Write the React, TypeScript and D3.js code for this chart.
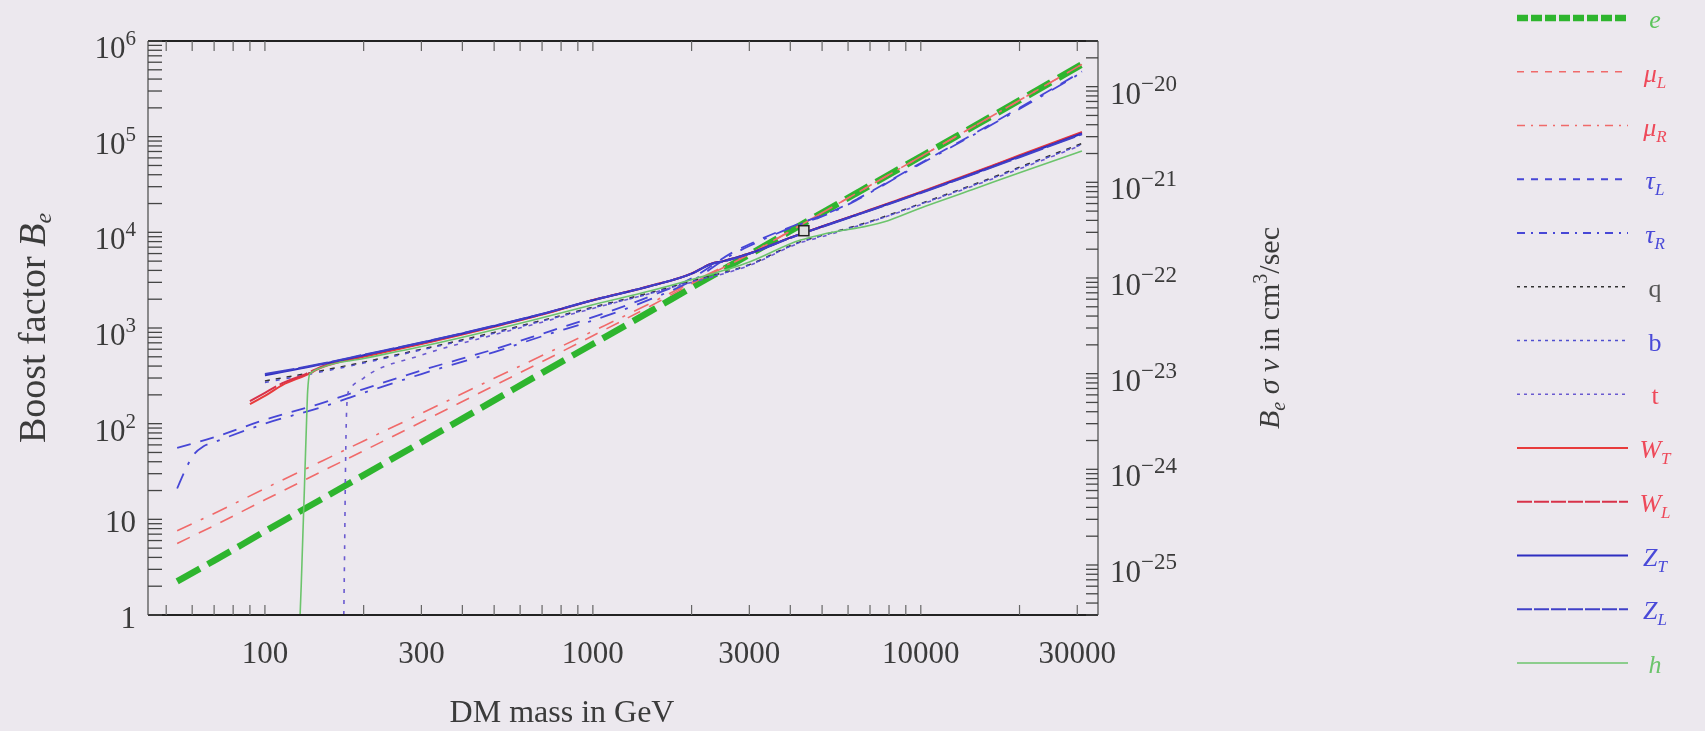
import React from "react";
import * as d3 from "d3";

// ---- data: [DM mass in GeV, boost factor B_e] ----
const eData = [[54,2.25],[70,3.7],[100,7.5],[150,16.5],[200,29],[300,64],[500,175],[700,340],[1000,680],[1500,1500],[2000,2650],[3000,5850],[5000,16000],[10000,62000],[20000,240000],[31000,570000]];
const muLData = [[54,5.6],[70,8.6],[100,16],[150,32],[200,52],[300,104],[500,250],[700,445],[1000,830],[1500,1700],[2000,2900],[3000,5900],[5000,16000],[10000,62000],[20000,240000],[31000,570000]];
const muRData = [[54,7.6],[70,11.5],[100,21],[150,41],[200,66],[300,128],[500,298],[700,515],[1000,925],[1500,1820],[2000,3000],[3000,6000],[5000,16000],[10000,62000],[20000,240000],[31000,570000]];
const tauLData = [[54,56],[70,72],[100,110],[150,165],[200,230],[300,360],[500,600],[700,870],[1000,1300],[1500,2150],[2000,3300],[2700,6300],[3000,7500],[4300,12500],[5000,15000],[10000,53000],[20000,200000],[31000,480000]];
const tauRData = [[54,21],[57,32],[60,45],[65,58],[70,64],[100,100],[150,150],[200,210],[300,330],[500,560],[700,820],[1000,1200],[1500,2000],[2000,3100],[2700,6000],[3000,7200],[4300,12200],[5000,14700],[10000,52000],[20000,195000],[31000,470000]];
const qData = [[100,280],[150,360],[200,440],[300,600],[500,900],[700,1200],[1000,1650],[1500,2350],[2000,3100],[3000,4600],[4300,8000],[5000,9300],[7000,13000],[10000,20000],[15000,33000],[20000,48000],[31000,85000]];
const bData = [[100,270],[150,350],[200,430],[300,590],[500,880],[700,1180],[1000,1620],[1500,2300],[2000,3050],[3000,4550],[4300,7900],[5000,9200],[7000,12800],[10000,19800],[15000,32500],[20000,47000],[31000,83000]];
const tData = [[174,1],[175,5],[176,30],[177,100],[178,170],[180,220],[200,300],[300,520],[500,850],[700,1150],[1000,1600],[1500,2300],[2000,3000],[3000,4500],[4300,7800],[5000,9000],[7000,12800],[10000,19500],[15000,32000],[20000,46000],[31000,82000]];
const WTData = [[90,160],[100,195],[113,253],[133,320],[150,390],[200,500],[300,680],[500,1030],[700,1380],[1000,1950],[1500,2750],[2000,3700],[2300,4700],[2500,5000],[3000,6000],[4000,8800],[5000,11500],[7000,17200],[10000,26500],[15000,44000],[20000,64000],[31000,112000]];
const WLData = [[90,172],[100,210],[113,265],[133,330],[150,400],[200,510],[300,690],[500,1040],[700,1390],[1000,1960],[1500,2760],[2000,3720],[2300,4700],[2500,5000],[3000,6000],[4000,8800],[5000,11500],[7000,17100],[10000,26300],[15000,43500],[20000,63000],[31000,110000]];
const ZTData = [[100,320],[150,420],[200,520],[300,700],[500,1050],[700,1400],[1000,1950],[1500,2750],[2000,3700],[2300,4700],[2500,5000],[3000,6000],[4000,8800],[5000,11500],[7000,17000],[10000,26000],[15000,43000],[20000,62000],[31000,108000]];
const ZLData = [[100,330],[150,425],[200,525],[300,705],[500,1055],[700,1405],[1000,1955],[1500,2755],[2000,3700],[2300,4650],[2500,4950],[3000,5950],[4000,8700],[5000,11400],[7000,16900],[10000,25800],[15000,42500],[20000,61000],[31000,106000]];
const hData = [[128,1],[129,2],[130,4.5],[131,10],[132,22],[133,50],[134,110],[135,220],[137,330],[150,390],[200,480],[300,640],[500,960],[700,1280],[1000,1750],[1500,2450],[2000,3200],[3000,4900],[4300,8300],[5000,9500],[7700,12800],[10000,18000],[14400,28000],[20000,42000],[31000,71000]];
const markerPoint = [4400, 10400];

const xTickLabels = [100, 300, 1000, 3000, 10000, 30000];
const yLabelExps = [0, 1, 2, 3, 4, 5, 6];
const rightLabelExps = [-25, -24, -23, -22, -21, -20];

type Ser = { key: string; data: number[][]; color: string; width: number; dash: string; legendDash: string; label: string; sub: string; italic: boolean; labelColor: string };

const series: Ser[] = [
  { key: "e", data: eData, color: "#2fb52f", width: 6.5, dash: "26,9", legendDash: "11,3", label: "e", sub: "", italic: true, labelColor: "#5cc45c" },
  { key: "muL", data: muLData, color: "#f06a6a", width: 1.6, dash: "14,10", legendDash: "7,7", label: "μ", sub: "L", italic: true, labelColor: "#ee4a5a" },
  { key: "muR", data: muRData, color: "#f06a6a", width: 1.6, dash: "16,10,3,10", legendDash: "8,6,2,6", label: "μ", sub: "R", italic: true, labelColor: "#ee4a5a" },
  { key: "tauL", data: tauLData, color: "#4646d6", width: 1.8, dash: "14,10", legendDash: "7,7", label: "τ", sub: "L", italic: true, labelColor: "#4a4ad8" },
  { key: "tauR", data: tauRData, color: "#4646d6", width: 1.8, dash: "16,10,3,10", legendDash: "8,6,2,6", label: "τ", sub: "R", italic: true, labelColor: "#4a4ad8" },
  { key: "q", data: qData, color: "#303030", width: 1.5, dash: "5,6", legendDash: "3,4", label: "q", sub: "", italic: false, labelColor: "#555" },
  { key: "b", data: bData, color: "#5050d0", width: 1.5, dash: "4,7", legendDash: "3,4", label: "b", sub: "", italic: false, labelColor: "#4a4ad8" },
  { key: "t", data: tData, color: "#6a5ad0", width: 1.6, dash: "4,7", legendDash: "3,4", label: "t", sub: "", italic: false, labelColor: "#ee4a5a" },
  { key: "WT", data: WTData, color: "#e83a3a", width: 2, dash: "", legendDash: "", label: "W", sub: "T", italic: true, labelColor: "#ee4a5a" },
  { key: "WL", data: WLData, color: "#d8324a", width: 2, dash: "30,4", legendDash: "15,2", label: "W", sub: "L", italic: true, labelColor: "#ee4a5a" },
  { key: "ZT", data: ZTData, color: "#2e2ec0", width: 2, dash: "", legendDash: "", label: "Z", sub: "T", italic: true, labelColor: "#4a4ad8" },
  { key: "ZL", data: ZLData, color: "#4040c8", width: 2, dash: "30,4", legendDash: "15,2", label: "Z", sub: "L", italic: true, labelColor: "#4a4ad8" },
  { key: "h", data: hData, color: "#6cc46c", width: 1.6, dash: "", legendDash: "", label: "h", sub: "", italic: true, labelColor: "#6cc46c" },
];

export default function App() {
  const X0 = 148, X1 = 1098, Y0 = 41, Y1 = 615;
  const x = d3.scaleLog().domain([44, 34700]).range([X0, X1]);
  const y = d3.scaleLog().domain([1, 1e6]).range([Y1, Y0]);
  const yR = d3.scaleLog().domain([3e-26, 3e-20]).range([Y1, Y0]);
  const line = d3
    .line<number[]>()
    .x((d) => x(d[0]))
    .y((d) => y(d[1]))
    .curve(d3.curveMonotoneX);

  const xTicks: number[] = [];
  for (let k = 1; k <= 4; k++)
    for (let j = 1; j <= 9; j++) {
      const v = j * Math.pow(10, k);
      if (v >= 44 && v <= 34700) xTicks.push(v);
    }
  const yTicks: number[] = [];
  for (let k = 0; k <= 5; k++) for (let j = 1; j <= 9; j++) yTicks.push(j * Math.pow(10, k));
  yTicks.push(1e6);
  const rTicks: number[] = [];
  for (let k = -26; k <= -20; k++)
    for (let j = 1; j <= 9; j++) {
      const v = j * Math.pow(10, k);
      if (v >= 3e-26 * 0.999 && v <= 3e-20 * 1.001) rTicks.push(v);
    }

  const font = "'Liberation Serif', 'DejaVu Serif', serif";
  const tickFs = 31;
  const legX0 = 1517, legX1 = 1628, legLabelX = 1655;
  const legY = (i: number) => 18 + i * 53.75;

  return (
    <svg
      width={1705}
      height={731}
      style={{ position: "absolute", left: 0, top: 0, display: "block" }}
      fontFamily={font}
    >
      <defs>
        <clipPath id="plotclip">
          <rect x={X0} y={Y0} width={X1 - X0} height={Y1 - Y0} />
        </clipPath>
        <filter id="soft" x="-5%" y="-5%" width="110%" height="110%">
          <feGaussianBlur stdDeviation="0.7" />
        </filter>
      </defs>
      <rect x={0} y={0} width={1705} height={731} fill="#ece8ee" />
      <g filter="url(#soft)">
        {/* series */}
        <g clipPath="url(#plotclip)" fill="none">
          {series.map((s) => (
            <path
              key={s.key}
              d={line(s.data) || ""}
              stroke={s.color}
              strokeWidth={s.width}
              strokeDasharray={s.dash || undefined}
              strokeLinecap="butt"
            />
          ))}
          <rect
            x={x(markerPoint[0]) - 5}
            y={y(markerPoint[1]) - 5}
            width={10}
            height={10}
            fill="#ddd"
            stroke="#222"
            strokeWidth={1.5}
          />
        </g>
        {/* frame */}
        <line x1={X0} y1={Y0} x2={X1} y2={Y0} stroke="#222" strokeWidth={2} />
        <line x1={X0} y1={Y1} x2={X1} y2={Y1} stroke="#222" strokeWidth={2} />
        <line x1={X0} y1={Y0} x2={X0} y2={Y1} stroke="#555" strokeWidth={1.3} />
        <line x1={X1} y1={Y0} x2={X1} y2={Y1} stroke="#555" strokeWidth={1.3} />
        {/* x ticks bottom and top */}
        {xTicks.map((v) => (
          <g key={"xt" + v} stroke="#666" strokeWidth={1.2}>
            <line x1={x(v)} x2={x(v)} y1={Y1} y2={Y1 - 10} />
            <line x1={x(v)} x2={x(v)} y1={Y0} y2={Y0 + 10} />
          </g>
        ))}
        {/* left ticks */}
        {yTicks.map((v) => (
          <line key={"yt" + v} x1={X0} x2={X0 + 14} y1={y(v)} y2={y(v)} stroke="#444" strokeWidth={1.3} />
        ))}
        {/* right ticks */}
        {rTicks.map((v) => (
          <line key={"rt" + v} x1={X1} x2={X1 - 12} y1={yR(v)} y2={yR(v)} stroke="#444" strokeWidth={1.3} />
        ))}
        {/* x labels */}
        {xTickLabels.map((v) => (
          <text key={"xl" + v} x={x(v)} y={663} fontSize={tickFs} textAnchor="middle" fill="#3a3a3a">
            {v}
          </text>
        ))}
        {/* y labels */}
        {yLabelExps.map((k) =>
          k <= 1 ? (
            <text key={"yl" + k} x={136} y={y(Math.pow(10, k)) + 13} fontSize={tickFs} textAnchor="end" fill="#3a3a3a">
              {k === 0 ? "1" : "10"}
            </text>
          ) : (
            <text key={"yl" + k} x={136} y={y(Math.pow(10, k)) + 17} fontSize={tickFs} textAnchor="end" fill="#3a3a3a">
              10
              <tspan dy={-13} fontSize={21}>
                {k}
              </tspan>
            </text>
          )
        )}
        {/* right labels */}
        {rightLabelExps.map((k) => (
          <text key={"rl" + k} x={1110} y={yR(Math.pow(10, k)) + 17} fontSize={tickFs} textAnchor="start" fill="#3a3a3a">
            10
            <tspan dy={-13} fontSize={23}>
              {"\u2212" + Math.abs(k)}
            </tspan>
          </text>
        ))}
        {/* axis titles */}
        <text x={562} y={722} fontSize={32} textAnchor="middle" fill="#3a3a3a">
          DM mass in GeV
        </text>
        <text transform={`translate(45,${(Y0 + Y1) / 2}) rotate(-90)`} fontSize={38} textAnchor="middle" fill="#3a3a3a">
          Boost factor <tspan fontStyle="italic">B</tspan>
          <tspan fontStyle="italic" fontSize={24} dy={6}>
            e
          </tspan>
        </text>
        <text transform={`translate(1279,${(Y0 + Y1) / 2}) rotate(-90)`} fontSize={30} textAnchor="middle" fill="#3a3a3a">
          <tspan fontStyle="italic">B</tspan>
          <tspan fontStyle="italic" fontSize={20} dy={6}>
            e
          </tspan>
          <tspan dy={-6}> </tspan>
          <tspan fontStyle="italic">σ v</tspan>
          <tspan> in cm</tspan>
          <tspan fontSize={20} dy={-12}>
            3
          </tspan>
          <tspan dy={12}>/sec</tspan>
        </text>
        {/* legend */}
        {series.map((s, i) => (
          <g key={"lg" + s.key}>
            <line
              x1={legX0}
              x2={legX1}
              y1={legY(i)}
              y2={legY(i)}
              stroke={s.color}
              strokeWidth={s.key === "e" ? 6.5 : s.width}
              strokeDasharray={s.legendDash || undefined}
            />
            <text x={legLabelX} y={legY(i) + 10} fontSize={26} textAnchor="middle" fill={s.labelColor}>
              <tspan fontStyle={s.italic ? "italic" : "normal"}>{s.label}</tspan>
              {s.sub ? (
                <tspan fontStyle="italic" fontSize={17} dy={6}>
                  {s.sub}
                </tspan>
              ) : null}
            </text>
          </g>
        ))}
      </g>
    </svg>
  );
}
